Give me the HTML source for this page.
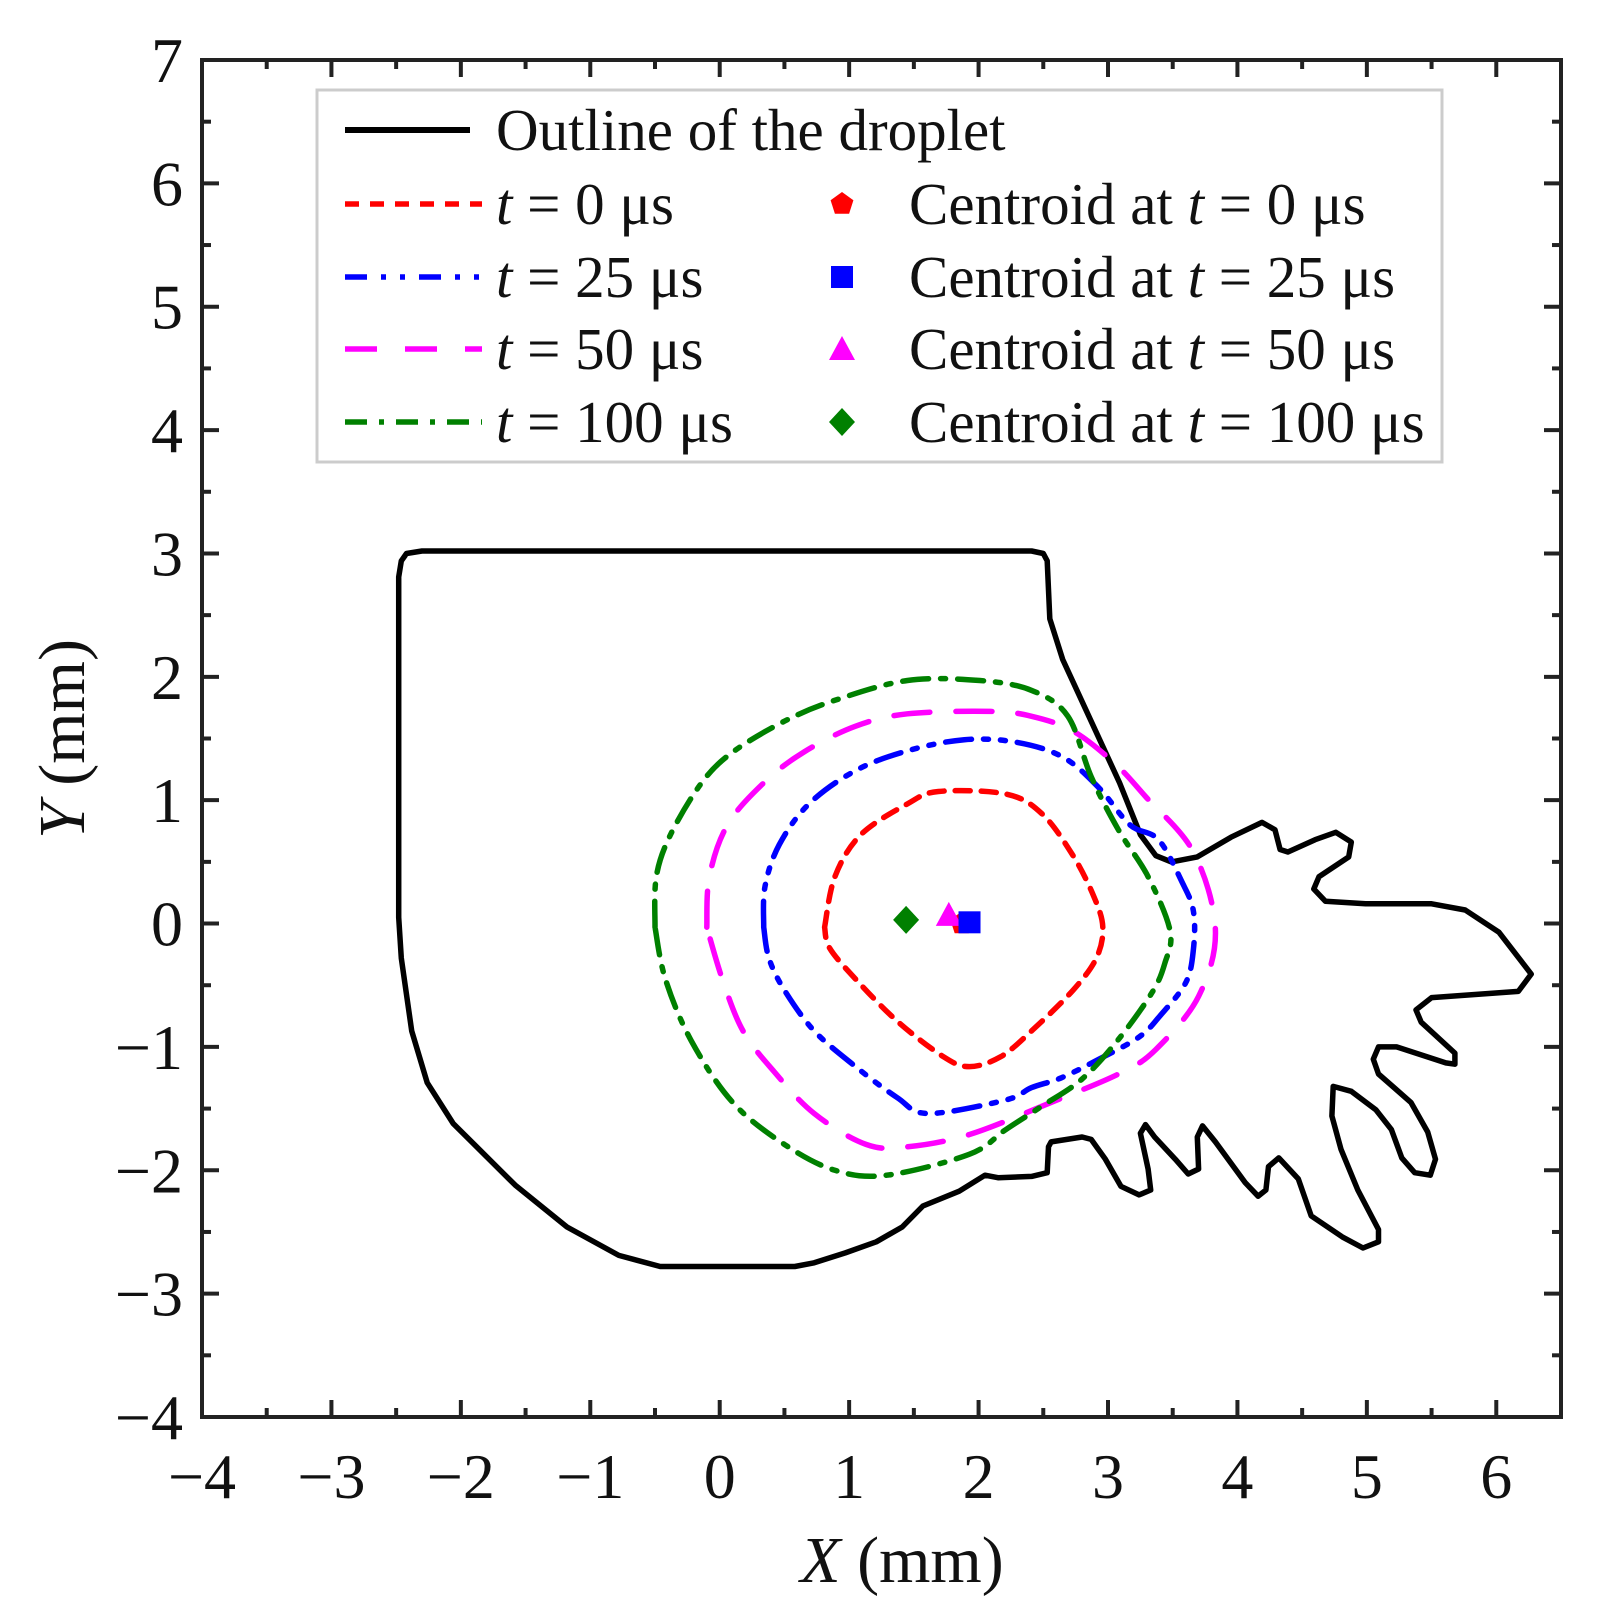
<!DOCTYPE html>
<html><head><meta charset="utf-8"><style>
body{margin:0;background:#fff;}
svg text{font-family:"Liberation Serif",serif;fill:#111;}
</style></head><body>
<svg id="chart" width="1601" height="1617" viewBox="0 0 1601 1617" xmlns="http://www.w3.org/2000/svg">
<g id="marks"></g>
<g id="axes"></g>
<g id="legend"></g>
</svg>
<script>
const xTicks=[-4,-3,-2,-1,0,1,2,3,4,5,6];
const yTicks=[-4,-3,-2,-1,0,1,2,3,4,5,6,7];
const outlineX=[-2.30,2.41,2.50,2.53,2.55,2.65,3.09,3.25,3.37,3.49,3.69,3.95,4.19,4.29,4.33,4.39,4.60,4.76,4.88,4.86,4.63,4.59,4.68,4.99,5.50,5.76,6.02,6.27,6.17,5.50,5.38,5.42,5.68,5.68,5.61,5.23,5.09,5.05,5.09,5.34,5.47,5.53,5.49,5.37,5.27,5.19,5.07,4.88,4.74,4.73,4.80,4.93,5.09,5.09,4.97,4.81,4.57,4.47,4.32,4.24,4.22,4.16,4.06,3.83,3.73,3.69,3.70,3.62,3.52,3.36,3.29,3.25,3.31,3.33,3.24,3.10,2.98,2.87,2.80,2.56,2.54,2.53,2.41,2.15,2.05,1.85,1.57,1.41,1.21,0.97,0.73,0.58,-0.46,-0.78,-1.18,-1.58,-2.06,-2.26,-2.38,-2.46,-2.48,-2.48,-2.46,-2.42,-2.30];
const outlineY=[3.02,3.02,3.00,2.94,2.47,2.14,1.14,0.72,0.55,0.50,0.54,0.70,0.82,0.76,0.60,0.58,0.68,0.74,0.66,0.54,0.38,0.28,0.18,0.16,0.16,0.11,-0.07,-0.41,-0.55,-0.60,-0.70,-0.80,-1.05,-1.14,-1.13,-1.00,-1.00,-1.10,-1.22,-1.45,-1.69,-1.91,-2.04,-2.02,-1.90,-1.67,-1.51,-1.36,-1.32,-1.56,-1.83,-2.16,-2.48,-2.58,-2.63,-2.54,-2.37,-2.07,-1.90,-1.97,-2.16,-2.21,-2.10,-1.77,-1.64,-1.73,-1.99,-2.03,-1.91,-1.73,-1.63,-1.70,-1.99,-2.16,-2.20,-2.13,-1.91,-1.75,-1.73,-1.77,-1.81,-2.02,-2.05,-2.06,-2.04,-2.17,-2.29,-2.46,-2.58,-2.67,-2.75,-2.78,-2.78,-2.69,-2.46,-2.12,-1.62,-1.29,-0.87,-0.28,0.05,2.81,2.94,3.00,3.02];
const redX=[0.81,0.89,1.09,1.45,1.69,2.21,2.49,2.73,2.89,2.96,2.91,2.73,2.41,2.17,1.93,1.73,1.37,1.05,0.85,0.81];
const redY=[-0.03,0.38,0.72,0.97,1.07,1.05,0.89,0.55,0.22,-0.03,-0.28,-0.54,-0.87,-1.08,-1.16,-1.08,-0.79,-0.45,-0.20,-0.03];
const blueX=[0.34,0.35,0.46,0.69,1.05,1.45,1.89,2.29,2.65,2.93,3.17,3.39,3.57,3.66,3.66,3.60,3.40,3.24,2.93,2.64,2.41,2.21,1.61,1.37,1.05,0.73,0.50,0.38,0.34];
const blueY=[-0.03,0.30,0.64,0.97,1.24,1.40,1.49,1.47,1.35,1.10,0.80,0.68,0.34,0.10,-0.21,-0.48,-0.75,-0.92,-1.10,-1.25,-1.33,-1.43,-1.54,-1.41,-1.16,-0.87,-0.54,-0.28,-0.03];
const magX=[-0.10,-0.08,0.06,0.34,0.65,1.05,1.45,2.09,2.41,2.73,3.05,3.29,3.66,3.83,3.70,3.37,3.10,2.56,1.93,1.45,1.13,0.73,0.42,0.18,0.02,-0.10];
const magY=[-0.03,0.38,0.80,1.14,1.39,1.60,1.70,1.72,1.68,1.56,1.30,1.03,0.58,-0.05,-0.59,-1.02,-1.21,-1.45,-1.71,-1.81,-1.79,-1.54,-1.20,-0.87,-0.45,-0.03];
const greenX=[-0.50,-0.49,-0.38,-0.14,0.10,0.50,0.89,1.45,2.01,2.41,2.69,2.87,3.08,3.31,3.48,3.44,3.34,3.08,2.80,2.49,2.21,1.93,1.29,0.89,0.50,0.10,-0.22,-0.42,-0.50];
const greenY=[-0.03,0.38,0.72,1.14,1.39,1.64,1.81,1.97,1.97,1.89,1.68,1.19,0.76,0.38,-0.06,-0.32,-0.56,-0.94,-1.26,-1.48,-1.67,-1.87,-2.04,-2.00,-1.79,-1.45,-0.95,-0.45,-0.03];
const centroidX=[1.87,1.93,1.77,1.44];
const centroidY=[0.00,0.01,0.07,0.03];

const X0=202,X1=1561,Y0=60,Y1=1417;
const sx=v=>X0+(v+4)/10.5*(X1-X0);
const sy=v=>Y0+(7-v)/11*(Y1-Y0);
const NS='http://www.w3.org/2000/svg';
function mk(tag,attrs,parent){const e=document.createElementNS(NS,tag);for(const k in attrs)e.setAttribute(k,attrs[k]);parent.appendChild(e);return e;}
const marks=document.getElementById('marks'),axes=document.getElementById('axes'),leg=document.getElementById('legend');
function smoothPath(xs,ys){
  const P=xs.map((v,i)=>[sx(v),sy(ys[i])]);
  let d='M'+P[0][0].toFixed(1)+' '+P[0][1].toFixed(1);
  for(let i=0;i<P.length-1;i++){
    const p0=P[Math.max(i-1,0)],p1=P[i],p2=P[i+1],p3=P[Math.min(i+2,P.length-1)];
    const c1=[p1[0]+(p2[0]-p0[0])/6,p1[1]+(p2[1]-p0[1])/6];
    const c2=[p2[0]-(p3[0]-p1[0])/6,p2[1]-(p3[1]-p1[1])/6];
    d+=' C'+c1[0].toFixed(1)+' '+c1[1].toFixed(1)+' '+c2[0].toFixed(1)+' '+c2[1].toFixed(1)+' '+p2[0].toFixed(1)+' '+p2[1].toFixed(1);
  }
  return d;
}
function linePath(xs,ys){return xs.map((v,i)=>(i?'L':'M')+sx(v).toFixed(1)+' '+sy(ys[i]).toFixed(1)).join(' ');}
function curve(xs,ys,color,dash,name,w,smooth){
  const p=mk('path',{d:smooth?smoothPath(xs,ys):linePath(xs,ys),fill:'none',stroke:color,'stroke-width':w,'stroke-dasharray':dash,'stroke-linejoin':'round','stroke-linecap':'round'},marks);
  
  
}
curve(outlineX,outlineY,'#000','none','droplet-outline',5.5,false);
curve(redX,redY,'#ff0000','15 11','contour-t0',5.5,true);
curve(blueX,blueY,'#0000ff','26 12 5 12 5 12','contour-t25',5.5,true);
curve(magX,magY,'#ff00ff','36 26','contour-t50',5.5,true);
curve(greenX,greenY,'#008000','26 12 5 12','contour-t100',5.5,true);

function marker(type,cx,cy,color,parent,name){
  let e;
  if(type==='pent'){const pts=[];for(let k=0;k<5;k++){const a=-Math.PI/2+k*2*Math.PI/5;pts.push((cx+12*Math.cos(a)).toFixed(1)+','+(cy+12*Math.sin(a)).toFixed(1));}e=mk('polygon',{points:pts.join(' '),fill:color},parent);}
  else if(type==='sq'){e=mk('rect',{x:cx-11,y:cy-11,width:22,height:22,fill:color},parent);}
  else if(type==='tri'){e=mk('polygon',{points:`${cx},${cy-13} ${cx+13},${cy+11} ${cx-13},${cy+11}`,fill:color},parent);}
  else {e=mk('polygon',{points:`${cx},${cy-14} ${cx+13},${cy} ${cx},${cy+14} ${cx-13},${cy}`,fill:color},parent);}
  
  
}
const mtypes=['pent','sq','tri','dia'],mcolors=['#ff0000','#0000ff','#ff00ff','#008000'],mnames=['centroid-t0','centroid-t25','centroid-t50','centroid-t100'];
[0,2,1,3].forEach(i=>marker(mtypes[i],sx(centroidX[i]),sy(centroidY[i]),mcolors[i],marks,mnames[i]));

const fr=mk('rect',{x:X0,y:Y0,width:X1-X0,height:Y1-Y0,fill:'none',stroke:'#222','stroke-width':4},axes);


for(let v=-4;v<=6.5;v+=0.5){const px=sx(v),maj=Number.isInteger(v),L=maj?17:9;
  mk('line',{x1:px,y1:Y1,x2:px,y2:Y1-L,stroke:'#222','stroke-width':4},axes);
  mk('line',{x1:px,y1:Y0,x2:px,y2:Y0+L,stroke:'#222','stroke-width':4},axes);}
for(let v=-4;v<=7;v+=0.5){const py=sy(v),maj=Number.isInteger(v),L=maj?17:9;
  mk('line',{x1:X0,y1:py,x2:X0+L,y2:py,stroke:'#222','stroke-width':4},axes);
  mk('line',{x1:X1,y1:py,x2:X1-L,y2:py,stroke:'#222','stroke-width':4},axes);}
const lab=v=>v<0?'\u2212'+(-v):String(v);
xTicks.forEach(v=>{const t=mk('text',{x:sx(v),y:1498,'text-anchor':'middle','font-size':64},axes);t.textContent=lab(v);
  
  });
yTicks.forEach(v=>{const t=mk('text',{x:183,y:sy(v)+22,'text-anchor':'end','font-size':64},axes);t.textContent=lab(v);
  
  });

const lb=mk('rect',{x:317,y:90,width:1125,height:372,fill:'#fff',stroke:'#ccc','stroke-width':3},leg);


const rowsY=[130,204,277,349,422];
const lcol=['#000','#ff0000','#0000ff','#ff00ff','#008000'];
const ldash=['none','14 11','22 14 5 14 5 14','32 28','22 12 5 12'];
const lname=['legend-outline','legend-t0','legend-t25','legend-t50','legend-t100'];
const ltext=['Outline of the droplet','= 0 μs','= 25 μs','= 50 μs','= 100 μs'];
rowsY.forEach((ry,i)=>{
  const g=mk('g',{},leg);
  
  
  mk('line',{x1:345,y1:ry,x2:i===0?470:482,y2:ry,stroke:lcol[i],'stroke-width':i===0?6:5.5,'stroke-dasharray':ldash[i]},g);
  const t=mk('text',{x:496,y:ry+20,'font-size':59},g);
  if(i===0)t.textContent=ltext[0];
  else{t.innerHTML='<tspan font-style="italic">t</tspan> '+ltext[i];}
  if(i>0){
    marker(mtypes[i-1],842,ry,mcolors[i-1],g,'legend-marker-'+mnames[i-1]);
    const t2=mk('text',{x:909,y:ry+20,'font-size':59},g);
    t2.innerHTML='Centroid at <tspan font-style="italic">t</tspan> '+ltext[i];
  }
});
const xt=mk('text',{x:902,y:1582,'text-anchor':'middle','font-size':66},axes);
xt.innerHTML='<tspan font-style="italic">X</tspan> (mm)';


const yt=mk('text',{x:0,y:0,'text-anchor':'middle','font-size':66,transform:'translate(84,739) rotate(-90)'},axes);
yt.innerHTML='<tspan font-style="italic">Y</tspan> (mm)';


</script>
</body></html>
